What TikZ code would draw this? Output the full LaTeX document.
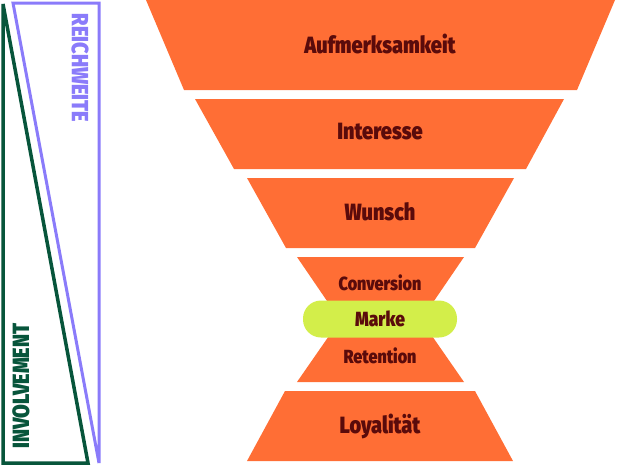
\documentclass[tikz,border=0pt]{standalone}
\usepackage{fontspec}
\setmainfont{Fira Sans}[BoldFont={Fira Sans Black}, BoldFeatures={FakeStretch=0.85}]
\usetikzlibrary{positioning}
\definecolor{funnelorange}{HTML}{FF6E35}
\definecolor{labelred}{HTML}{5A0B0B}
\definecolor{markelime}{HTML}{D3EE4A}
\definecolor{reachpurple}{HTML}{8A7BFA}
\definecolor{involvegreen}{HTML}{07553B}
\begin{document}
\begin{tikzpicture}[
                    x=1pt, y=-1pt,
                    stage/.style={fill=funnelorange},
                    stagelabel/.style={text=labelred, font=\bfseries\fontsize{23.5}{23.5}\selectfont},
                    smalllabel/.style={text=labelred, font=\bfseries\fontsize{19}{19}\selectfont},
                    sidelabel/.style={font=\bfseries\fontsize{23.5}{23.5}\selectfont}
                ]
                  \useasboundingbox (0,0) rectangle (617,466);
                  % side scales
                  \draw[involvegreen, line width=3.5pt, line join=miter]
                    (3,4) -- (3,463) -- (88,463) -- cycle;
                  \draw[reachpurple, line width=3pt, line join=miter]
                    (13,3) -- (99,3) -- (99,463) -- cycle;
                  \node[sidelabel, text=reachpurple, rotate=-90] (reach) at (80,68) {REICHWEITE};
                  \node[sidelabel, text=involvegreen, rotate=90] (involve) at (21,386) {INVOLVEMENT};
                  % funnel
                  \fill[stage] (146,0) -- (615,0) -- (577,90) -- (184,90) -- cycle;
                  \fill[stage] (195,99) -- (564,99) -- (526,169) -- (234,169) -- cycle;
                  \fill[stage] (247,178) -- (514,178) -- (475,248) -- (286,248) -- cycle;
                  \fill[stage] (297,257) -- (464,257) -- (421,320) -- (340,320) -- cycle;
                  \fill[stage] (340,320) -- (421,320) -- (464,382) -- (297,382) -- cycle;
                  \fill[stage] (285,391) -- (475,391) -- (513,461) -- (247,461) -- cycle;
                  \node[stagelabel] (attention) at (380,44) {Aufmerksamkeit};
                  \node[stagelabel] (interest) at (380,132) {Interesse};
                  \node[stagelabel] (desire) at (380,212) {Wunsch};
                  \node[smalllabel] (conversion) at (380,283) {Conversion};
                  \node[smalllabel, fill=markelime, rounded corners=18pt,
                        minimum width=154pt, minimum height=37pt,
                        font=\bfseries\fontsize{20.5}{20.5}\selectfont] (brand) at (380,319) {Marke};
                  \node[smalllabel] (retention) at (380,356) {Retention};
                  \node[stagelabel] (loyalty) at (380,426) {Loyalität};
                \end{tikzpicture}
\end{document}
